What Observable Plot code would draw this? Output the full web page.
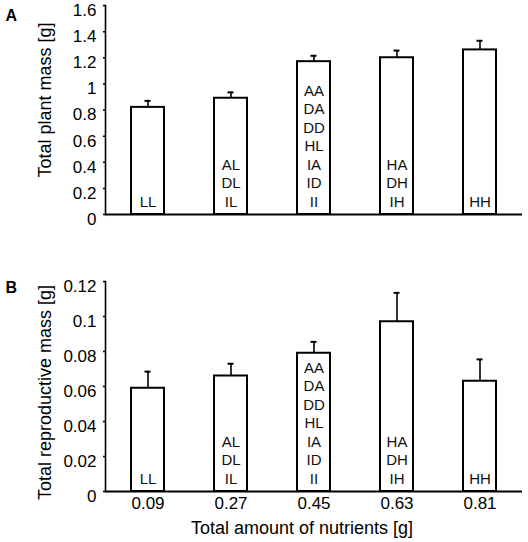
<!DOCTYPE html>
<html>
<head>
<meta charset="utf-8">
<script src="https://cdn.jsdelivr.net/npm/d3@7"></script>
<script src="https://cdn.jsdelivr.net/npm/@observablehq/plot@0.6"></script>
<style>
  html, body { margin: 0; padding: 0; background: #fff; }
  #chart { width: 528px; font-family: "Liberation Sans", Arial, sans-serif; }
  #chart svg { display: block; }
</style>
</head>
<body>
<div id="chart"></div>
<script>
const nutrients = ["0.09", "0.27", "0.45", "0.63", "0.81"];
const treatments = [
  ["LL"],
  ["AL", "DL", "IL"],
  ["AA", "DA", "DD", "HL", "IA", "ID", "II"],
  ["HA", "DH", "IH"],
  ["HH"]
];
const plantMass = [0.82, 0.89, 1.17, 1.20, 1.26];
const plantMassSE = [0.05, 0.045, 0.045, 0.055, 0.07];
const reproMass = [0.059, 0.066, 0.079, 0.097, 0.063];
const reproMassSE = [0.0095, 0.007, 0.0065, 0.0165, 0.0125];
const ticksA = [0, 0.2, 0.4, 0.6, 0.8, 1, 1.2, 1.4, 1.6];
const ticksB = [0, 0.02, 0.04, 0.06, 0.08, 0.1, 0.12];
const titleA = "Total plant mass [g]";
const titleB = "Total reproductive mass [g]";
const titleX = "Total amount of nutrients [g]";

const fmt = d => String(+d.toFixed(3));

function panel({values, se, ticks, yMax, yTitle, letter, height, marginTop, marginBottom, showX, titleDy, letterDy}) {
  const data = nutrients.map((n, i) => ({
    n, v: values[i], top: values[i] + se[i], label: treatments[i].join("\n")
  }));
  const marks = [
    Plot.barY(data, {x: "n", y: "v", fill: "white", stroke: "black", strokeWidth: 2}),
    Plot.ruleX(data, {x: "n", y1: "v", y2: "top", stroke: "black", strokeWidth: 1.6}),
    Plot.tickY(data, {x: "n", y: "top", stroke: "black", strokeWidth: 2, insetLeft: 13.5, insetRight: 13.5}),
    Plot.text(data, {x: "n", y: 0, text: "label", lineAnchor: "bottom", dy: -8, fontSize: 15, lineHeight: 1.23, fill: "#111"}),
    Plot.axisY({ticks, tickSize: 2, fill: "none", label: null, strokeWidth: 1.5}),
    Plot.axisY({ticks, tickSize: 0, tickPadding: 9, dy: 5, tickFormat: fmt, label: null, fontSize: 17}),
    Plot.frame({anchor: "left", stroke: "black", strokeWidth: 1.6}),
    Plot.ruleY([0], {stroke: "black", strokeWidth: 2.2}),
    Plot.text([yTitle], {frameAnchor: "left", textAnchor: "middle", rotate: -90, dx: -60, dy: titleDy, fontSize: 18}),
    Plot.text([letter], {frameAnchor: "top-left", textAnchor: "start", lineAnchor: "top", dx: -100, dy: letterDy, fontSize: 16, fontWeight: "bold"})
  ];
  if (showX) {
    marks.push(Plot.axisX({tickSize: 0, tickPadding: 5, fontSize: 17, label: null}));
    marks.push(Plot.text([titleX], {frameAnchor: "bottom", dy: 42, dx: -12, fontSize: 18}));
  } else {
    marks.push(Plot.axisX({ticks: [], label: null}));
  }
  return Plot.plot({
    width: 528,
    height,
    marginLeft: 105,
    marginRight: 6,
    marginTop,
    marginBottom,
    style: {fontFamily: '"Liberation Sans", Arial, sans-serif', color: "black", background: "white", overflow: "visible"},
    x: {type: "band", domain: nutrients, paddingInner: 0.6, paddingOuter: 0.3},
    y: {domain: [0, yMax]},
    marks
  });
}

const chart = document.getElementById("chart");
chart.append(panel({values: plantMass, se: plantMassSE, ticks: ticksA, yMax: 1.6, yTitle: titleA, letter: "A",
  height: 270, marginTop: 5, marginBottom: 56, showX: false, titleDy: -10, letterDy: 4}));
chart.append(panel({values: reproMass, se: reproMassSE, ticks: ticksB, yMax: 0.12, yTitle: titleB, letter: "B",
  height: 272, marginTop: 11, marginBottom: 51, showX: true, titleDy: 6, letterDy: 0}));
</script>
</body>
</html>
